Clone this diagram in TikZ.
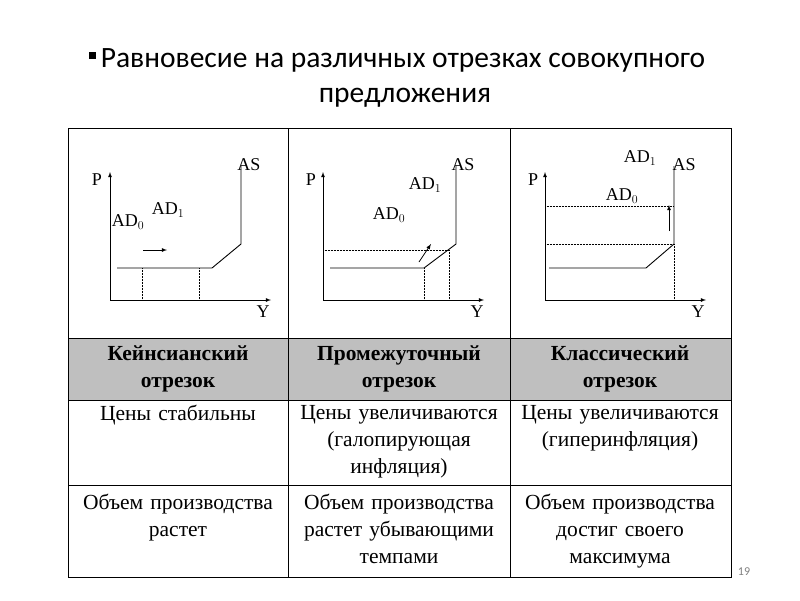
\documentclass[tikz,border=0pt]{standalone}
\usepackage{fontspec}
\setmainfont{Liberation Serif}
\newfontfamily\titlefont{Carlito}
\begin{document}
\begin{tikzpicture}[x=1pt,y=-1pt,
  ax/.style={-latex,line width=0.8pt},
  crv/.style={line width=0.9pt},
  dot/.style={densely dotted,line width=0.5pt},
  lbl/.style={font=\fontsize{18}{18}\selectfont,inner sep=0pt},
  cell/.style={font=\fontsize{21.5}{27}\selectfont,align=center,text width=215pt,inner sep=0pt},
  grid/.style={line width=0.6pt}]
\useasboundingbox (0,0) rectangle (800,600);
% title
\fill (89,52) rectangle (96,59) coordinate (bul);
\node[font=\titlefont\fontsize{29.5}{35}\selectfont,align=center] (title) at (405,78) {\hspace*{-4pt}Равновесие на различных отрезках совокупного\\предложения};
% table
\fill[gray!50] (68,338) rectangle (731,400);
\draw[grid] (68,128) rectangle (731,577);
\foreach \yy in {338,400,485} \draw[grid] (68,\yy) -- (731,\yy);
\foreach \xx in {288,510} \draw[grid] (\xx,128) -- (\xx,577);
% panel 1
\draw[ax] (110,300) -- (110,172);
\draw[ax] (110,300) -- (271,300);
\node[lbl] (p1) at (97,180) {P};
\node[lbl] (y1) at (263,312) {Y};
\draw[crv] (117,268) -- (212,268) -- (241,244) -- (241,166);
\node[lbl] (as1) at (249,165) {AS};
\draw[dot] (142,268) -- (142,300);
\draw[dot] (199,268) -- (199,300);
\draw[-latex,line width=0.8pt] (143,250) -- (167,250);
\node[lbl] (ad0a) at (128,222) {AD$_0$};
\node[lbl] (ad1a) at (168,210) {AD$_1$};
% panel 2
\draw[ax] (323,300) -- (323,172);
\draw[ax] (323,300) -- (484,300);
\node[lbl] (p2) at (311,180) {P};
\node[lbl] (y2) at (477,312) {Y};
\draw[dot] (323,250) -- (449,250);
\draw[dot] (424,268) -- (424,300);
\draw[dot] (449,250) -- (449,300);
\draw[crv] (330,268) -- (424,268) -- (456,244) -- (456,166);
\node[lbl] (as2) at (463,165) {AS};
\draw[-latex,line width=0.8pt] (419,262) -- (431,244);
\node[lbl] (ad0b) at (389,215) {AD$_0$};
\node[lbl] (ad1b) at (425,185) {AD$_1$};
% panel 3
\draw[ax] (545,300) -- (545,172);
\draw[ax] (545,300) -- (706,300);
\node[lbl] (p3) at (533,180) {P};
\node[lbl] (y3) at (698,312) {Y};
\draw[dot] (545,206) -- (674,206);
\draw[dot] (545,244) -- (674,244);
\draw[dot] (674,244) -- (674,300);
\draw[crv] (549,268) -- (646,268) -- (674,244) -- (674,166);
\node[lbl] (as3) at (684,165) {AS};
\draw[-latex,line width=0.8pt] (669,231) -- (669,205);
\node[lbl] (ad0c) at (622,196) {AD$_0$};
\node[lbl] (ad1c) at (640,158) {AD$_1$};
% texts
\node[cell,font=\bfseries\fontsize{21.5}{27}\selectfont] (h1) at (178,369) {Кейнсианский\\отрезок};
\node[cell,font=\bfseries\fontsize{21.5}{27}\selectfont] (h2) at (399,369) {Промежуточный\\отрезок};
\node[cell,font=\bfseries\fontsize{21.5}{27}\selectfont] (h3) at (620,369) {Классический\\отрезок};
\node[cell,anchor=north] (r1) at (178,405) {Цены стабильны};
\node[cell,anchor=north] (r2) at (399,405) {Цены увеличиваются\\(галопирующая\\инфляция)};
\node[cell,anchor=north] (r3) at (620,405) {Цены увеличиваются\\(гиперинфляция)};
\node[cell,anchor=north] (s1) at (178,494) {Объем производства\\растет};
\node[cell,anchor=north] (s2) at (399,494) {Объем производства\\растет убывающими\\темпами};
\node[cell,anchor=north] (s3) at (620,494) {Объем производства\\достиг своего\\максимума};
\node[font=\titlefont\fontsize{12}{12}\selectfont,text=gray] (pg) at (744,572) {19};
\end{tikzpicture}
\end{document}
